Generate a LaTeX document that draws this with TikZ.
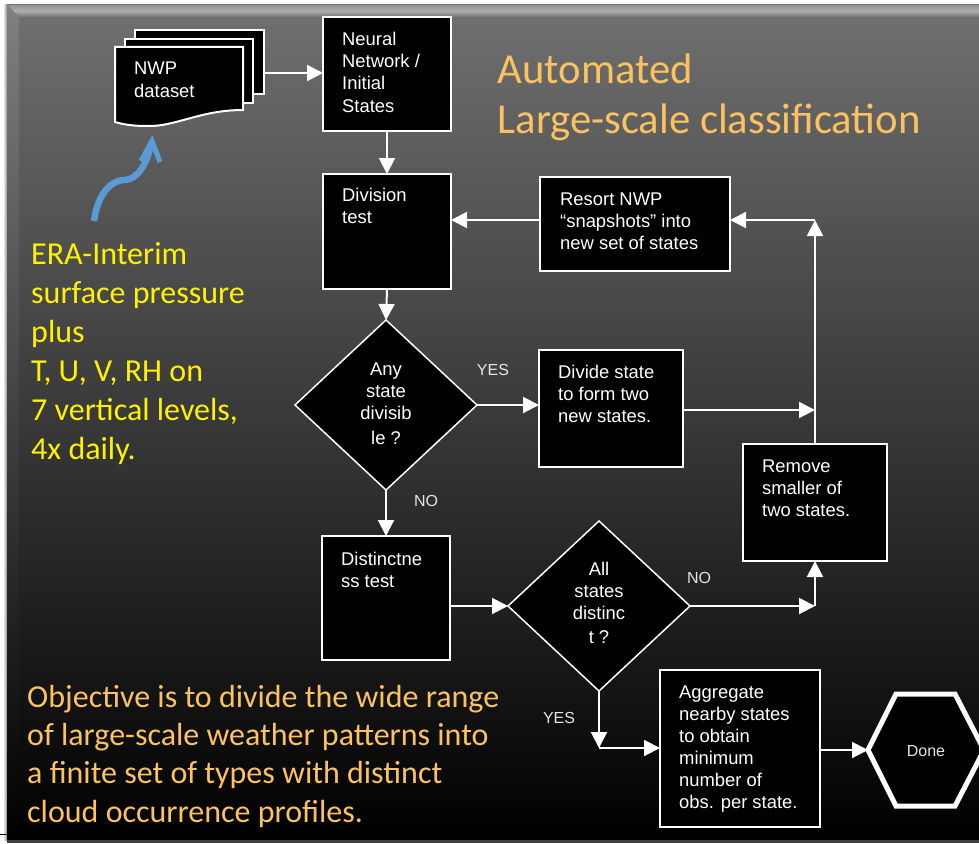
\documentclass[tikz,border=0pt]{standalone}
\usepackage{fontspec}
\setmainfont{Liberation Sans}
\newfontfamily\calib{Carlito}
\usetikzlibrary{arrows.meta,shapes.geometric,calc}
\definecolor{orangetext}{HTML}{FBC25F}
\definecolor{bluecurve}{HTML}{5B9BD5}
\tikzset{
  x=1pt,y=-1pt,
  flowbox/.style={draw=white,line width=2pt,fill=black,anchor=north west,inner sep=0pt,outer sep=0pt},
  flowdia/.style={diamond,draw=white,line width=1.5pt,fill=black,inner sep=0pt,outer sep=0pt,minimum width=182pt,minimum height=170pt},
  boxtext/.style={text=white,anchor=north west,inner sep=0pt,align=left,font=\fontsize{18.4}{22}\selectfont},
  diatext/.style={text=white,inner sep=0pt,align=center,font=\fontsize{18.4}{22}\selectfont},
  lab/.style={text=white!90!black,inner sep=0pt,font=\fontsize{16}{19}\selectfont},
  title/.style={text=orangetext,anchor=north west,inner sep=0pt,align=left,font=\calib\fontsize{42.7}{50}\selectfont},
  yellowtext/.style={text=yellow,anchor=north west,inner sep=0pt,align=left,font=\calib\fontsize{32}{39}\selectfont},
  orangeblock/.style={text=orangetext,anchor=north west,inner sep=0pt,align=left,font=\calib\fontsize{32}{38}\selectfont},
  conn/.style={draw=white,line width=2pt,-{Triangle[length=16pt,width=16pt]}},
}
\begin{document}
\begin{tikzpicture}
\useasboundingbox (0,0) rectangle (979,843);
\fill[white] (0,0) rectangle (979,843);
% slide background
\shade[left color=white,right color=black!45] (3,5) rectangle (7,840);
\shade[top color=black!56,bottom color=black] (7,5) rectangle (979,840);
\shade[top color=black!42,bottom color=black!55,middle color=black!32] (7,5) -- (979,5) -- (979,17) -- (19,17) -- cycle;
\shade[top color=black!50,bottom color=black] (7,5) -- (19,17) -- (19,828) -- (7,840) -- cycle;
\fill[black!75] (7,840) rectangle (979,843);
\draw[black,line width=1pt] (0,834) -- (7,834);
% document stack
\node[flowbox,minimum width=129pt,minimum height=64pt] (docback) at (135,30) {};
\node[flowbox,minimum width=128pt,minimum height=64pt] (docmid) at (125,39) {};
\coordinate (doca) at (115,47);
\coordinate (docb) at (243,47);
\coordinate (docc) at (243,110);
\coordinate (docd) at (115,122);
\draw[white,line width=2pt,fill=black,line join=miter]
  (doca) -- (docb) -- (docc) .. controls (200,110) and (175,127) .. (147,126)
  .. controls (135,126) and (125,125) .. (docd) -- cycle;
\node[boxtext] (nwp) at (134,62) {NWP\\[1pt]dataset};
% boxes
\node[flowbox,minimum width=128pt,minimum height=114pt] (neural) at (323,17) {};
\node[boxtext] (neuralt) at ([shift={(19,15)}]neural.north west) {Neural\\Network /\\Initial\\[1pt]States};
\node[flowbox,minimum width=128pt,minimum height=115pt] (division) at (323,174) {};
\node[boxtext] (divisiont) at ([shift={(19,14)}]division.north west) {Division\\test};
\node[flowbox,minimum width=190pt,minimum height=94pt] (resort) at (540,177) {};
\node[boxtext] (resortt) at ([shift={(20,15.5)}]resort.north west) {Resort NWP\\“snapshots” into\\new set of states};
\node[flowdia] (any) at (386,405) {};
\node[diatext] (anyt) at (386,404) {Any\\state\\divisib\\[3pt]le ?};
\node[flowbox,minimum width=144pt,minimum height=117pt] (divide) at (539,350) {};
\node[boxtext] (dividet) at ([shift={(19,14.5)}]divide.north west) {Divide state\\to form two\\new states.};
\node[flowbox,minimum width=144pt,minimum height=117pt] (remove) at (743,444) {};
\node[boxtext] (removet) at ([shift={(19,16)}]remove.north west) {Remove\\smaller of\\two states.};
\node[flowbox,minimum width=128pt,minimum height=124pt] (distinct) at (322,536) {};
\node[boxtext] (distinctt) at ([shift={(19,15.5)}]distinct.north west) {Distinctne\\ss test};
\node[flowdia] (all) at (599,606) {};
\node[diatext] (allt) at (599,603) {All\\states\\distinc\\[2pt]t ?};
\node[flowbox,minimum width=160pt,minimum height=157pt] (aggregate) at (660,670) {};
\node[boxtext] (aggregatet) at ([shift={(19,16)}]aggregate.north west) {Aggregate\\nearby states\\to obtain\\minimum\\number of\\obs. per state.};
% hexagon
\coordinate (hexl) at (868,750);
\draw[white,line width=5pt,fill=black,line join=miter] (hexl) -- (896,694) -- (955,694) -- (984,750) -- (955,806) -- (896,806) -- cycle;
\node[text=white!90!black,inner sep=0pt,font=\fontsize{16}{19}\selectfont] (done) at (926,751) {Done};
% connectors
\draw[conn] (docback.east |- 0,73) -- (neural.west |- 0,73);
\draw[conn] (neural.south) -- (division.north);
\draw[conn] (resort.west |- 0,220) -- (division.east |- 0,220);
\draw[conn] (division.south) -- (any.north);
\draw[conn] (any.east) -- (divide.west |- any.east);
\coordinate (rail) at (815,220);
\coordinate (railmid) at (815,410);
\draw[conn] (divide.east |- railmid) -- (railmid);
\draw[conn] (remove.north -| rail) -- (rail);
\draw[conn] (rail) -- (resort.east |- rail);
\draw[conn] (any.south) -- (distinct.north -| any.south);
\draw[conn] (distinct.east |- all.west) -- (all.west);
\coordinate (railb) at (815,606);
\draw[conn] (all.east) -- (railb);
\draw[conn] (railb) -- (remove.south -| railb);
\coordinate (yesb) at (599,748);
\draw[conn] (all.south) -- (yesb);
\draw[conn] (yesb) -- (aggregate.west |- yesb);
\draw[conn] (aggregate.east |- hexl) -- (hexl);
% edge labels
\node[lab] (yes1) at (493,370) {YES};
\node[lab] (no1) at (426,501) {NO};
\node[lab] (no2) at (699,578) {NO};
\node[lab] (yes2) at (559,718) {YES};
% blue arrow
\coordinate (bluea) at (94,221);
\coordinate (blueb) at (152,141);
\draw[bluecurve,line width=6.5pt,line join=round]
  (bluea) .. controls (97,198) and (108,181) .. (124,180)
  .. controls (137,180) and (147,165) .. (blueb);
\draw[bluecurve,line width=5pt,line join=miter] (141,161) -- (blueb) -- (160,162);
% texts
\node[title] (titlet) at (497.5,54) {Automated\\Large-scale classification};
\node[yellowtext] (era) at (31,242) {ERA-Interim\\surface pressure\\plus\\T, U, V, RH on\\7 vertical levels,\\4x daily.};
\node[orangeblock] (obj) at (27,685) {Objective is to divide the wide range\\of large-scale weather patterns into\\a finite set of types with distinct\\[1pt]cloud occurrence profiles.};
\end{tikzpicture}
\end{document}
